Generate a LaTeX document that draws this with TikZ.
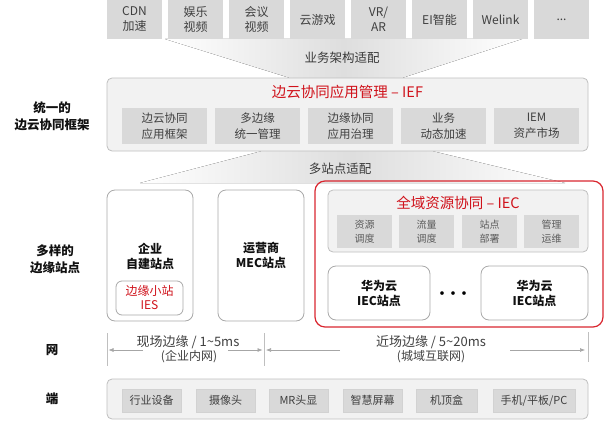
\documentclass[tikz,border=0pt]{standalone}
\usepackage{fontspec}
\setmainfont{Noto Sans CJK SC}
\usetikzlibrary{arrows.meta}
\definecolor{boxg}{HTML}{D9D9D9}
\definecolor{panel}{HTML}{F2F2F2}
\definecolor{bord}{HTML}{BFBFBF}
\definecolor{sbord}{HTML}{A9A9A9}
\definecolor{redc}{HTML}{D0121B}
\definecolor{redb}{HTML}{D9262F}
\definecolor{txt}{HTML}{3F3F3F}
\definecolor{lbl}{HTML}{111111}
\definecolor{funnel}{HTML}{DEDEDE}
\definecolor{arrc}{HTML}{A6A6A6}
\newcommand\fsz[2]{\fontsize{#1}{#2}\selectfont}
\newcommand\mybox[7][]{\node[#1, minimum width={#5pt-#3pt}, minimum height={#6pt-#4pt}] (#2) at ({(#3+#5)/2},{(#4+#6)/2}) {#7};}
\tikzset{
  appbox/.style={fill=boxg, inner sep=0pt, align=center, text=txt, font=\fsz{12}{15}},
  innerbox/.style={fill=boxg, inner sep=0pt, align=center, text=txt, font=\fsz{11.5}{15.5}},
  subbox/.style={fill=boxg, inner sep=0pt, align=center, text=txt!85, font=\fsz{10}{14}},
  endbox/.style={fill=boxg, draw=bord!70, line width=0.4pt, inner sep=0pt, align=center, text=txt, font=\fsz{11}{14}},
  panelbox/.style={draw=bord, fill=panel, rounded corners=5pt, line width=0.8pt, inner sep=0pt},
  sitebox/.style={draw=sbord, fill=white, rounded corners=8pt, line width=0.8pt, inner sep=0pt, align=center, text=lbl, font=\bfseries\fsz{12}{15}},
  redbox/.style={draw=redb, rounded corners=10pt, line width=1.2pt, inner sep=0pt},
  lbltext/.style={font=\bfseries\fsz{12.5}{17}, text=lbl, align=center},
  redtitle/.style={font=\fsz{14.5}{17}, text=redc},
  midtext/.style={font=\fsz{12.5}{15}, text=txt!90!black},
  vline/.style={draw=bord, line width=0.8pt},
  arr/.style={draw=arrc, line width=0.6pt, -{Latex[length=5pt,width=4pt]}},
}
\begin{document}
\begin{tikzpicture}[x=1pt,y=-1pt]
\useasboundingbox (0,0) rectangle (604,428);
% funnels
\fill[left color=white, right color=white, middle color=funnel] (165,39) -- (522,39) -- (402,78) -- (290,78) -- cycle;
\fill[left color=white, right color=white, middle color=funnel] (262,151) -- (432,151) -- (565,183) -- (140,183) -- cycle;
% top apps
\mybox[appbox]{t1}{107}{0}{162}{39}{CDN\\加速}
\mybox[appbox]{t2}{168}{0}{223}{39}{娱乐\\视频}
\mybox[appbox]{t3}{229}{0}{284}{39}{会议\\视频}
\mybox[appbox]{t4}{290}{0}{345}{39}{云游戏}
\mybox[appbox]{t5}{351}{0}{406}{39}{VR/\\AR}
\mybox[appbox]{t6}{412}{0}{467}{39}{EI智能}
\mybox[appbox]{t7}{473}{0}{528}{39}{Welink}
\mybox[appbox]{t8}{534}{0}{589}{39}{...}
\node[midtext] (fit1) at (342,58) {业务架构适配};
% IEF panel
\mybox[panelbox]{ief}{107}{78}{588}{151}{}
\node[redtitle] (ieft) at (347.5,92) {边云协同应用管理 – IEF};
\mybox[innerbox]{f1}{122}{108}{207}{144}{边云协同\\应用框架}
\mybox[innerbox]{f2}{215}{108}{300}{144}{多边缘\\统一管理}
\mybox[innerbox]{f3}{308}{108}{393}{144}{边缘协同\\应用治理}
\mybox[innerbox]{f4}{401}{108}{486}{144}{业务\\动态加速}
\mybox[innerbox]{f5}{494}{108}{579}{144}{IEM\\资产市场}
\node[lbltext] (l1) at (52,116) {统一的\\边云协同框架};
\node[midtext] (fit2) at (340,169) {多站点适配};
% sites
\node[lbltext] (l2) at (55,259) {多样的\\边缘站点};
\mybox[sitebox]{s1}{107}{190}{193}{321}{}
\node[font=\bfseries\fsz{12}{15}, text=lbl, align=center] (s1t) at (150,256) {企业\\自建站点};
\mybox[sitebox, font=\fsz{12}{14}, text=redc, rounded corners=6pt]{ies}{116}{281}{183}{315}{边缘小站\\IES}
\mybox[sitebox]{s2}{218}{190}{304}{321}{运营商\\MEC站点}
\mybox[redbox]{iec}{315}{181}{603}{327}{}
\mybox[panelbox]{iecp}{328}{190}{588}{252}{}
\node[redtitle] (iect) at (458,203) {全域资源协同 – IEC};
\mybox[subbox]{c1}{337}{215}{392}{248}{资源\\调度}
\mybox[subbox]{c2}{399}{215}{454}{248}{流量\\调度}
\mybox[subbox]{c3}{462}{215}{517}{248}{站点\\部署}
\mybox[subbox]{c4}{524}{215}{579}{248}{管理\\运维}
\mybox[sitebox]{h1}{328}{266}{430}{320}{华为云\\IEC站点}
\mybox[sitebox]{h2}{481}{266}{588}{320}{华为云\\IEC站点}
\node[font=\bfseries\fsz{13}{15}, text=black] (dots) at (453,295) {·\kern-2pt·\kern-2pt·};
% network
\node[lbltext] (l3) at (52,350) {网};
\coordinate (v1t) at (107,333); \coordinate (v1b) at (107,366);
\coordinate (v2t) at (264,333); \coordinate (v2b) at (264,366);
\coordinate (v3t) at (588,332); \coordinate (v3b) at (588,362);
\draw[vline] (v1t) -- (v1b);
\draw[vline] (v2t) -- (v2b);
\draw[vline] (v3t) -- (v3b);
\coordinate (a1s) at (143,350); \coordinate (a1e) at (108.5,350);
\coordinate (a2s) at (228,350); \coordinate (a2e) at (262.5,350);
\coordinate (a3s) at (340,350); \coordinate (a3e) at (266,350);
\coordinate (a4s) at (510,350); \coordinate (a4e) at (585,350);
\draw[arr] (a1s) -- (a1e);
\draw[arr] (a2s) -- (a2e);
\draw[arr] (a3s) -- (a3e);
\draw[arr] (a4s) -- (a4e);
\node[font=\fsz{13}{15}, text=txt] (n1a) at (188,342) {现场边缘 / 1\textasciitilde5ms};
\node[font=\fsz{12}{14}, text=txt] (n1b) at (189,357) {(企业内网)};
\node[font=\fsz{13}{15}, text=txt] (n2a) at (431,342) {近场边缘 / 5\textasciitilde20ms};
\node[font=\fsz{12}{14}, text=txt] (n2b) at (431,357) {(城域互联网)};
% devices
\node[lbltext] (l4) at (52,399) {端};
\mybox[panelbox]{endp}{107}{379}{588}{419}{}
\mybox[endbox]{e1}{122}{389}{181}{412}{行业设备}
\mybox[endbox]{e2}{196}{389}{255}{412}{摄像头}
\mybox[endbox]{e3}{269}{389}{328}{412}{MR头显}
\mybox[endbox]{e4}{343}{389}{402}{412}{智慧屏幕}
\mybox[endbox]{e5}{416}{389}{477}{412}{机顶盒}
\mybox[endbox]{e6}{493}{389}{575}{412}{手机/平板/PC}
\end{tikzpicture}
\end{document}
